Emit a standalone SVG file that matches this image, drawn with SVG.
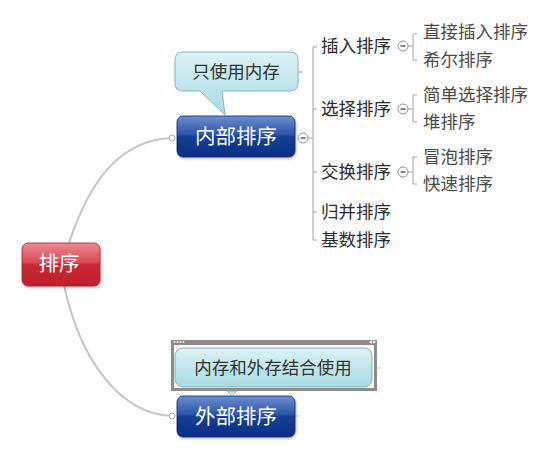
<svg xmlns="http://www.w3.org/2000/svg" width="555" height="459" viewBox="0 0 555 459">
<defs>
<linearGradient id="gRed" x1="0" y1="0" x2="0" y2="1">
<stop offset="0" stop-color="#ec8a92"/>
<stop offset="0.45" stop-color="#d84a55"/>
<stop offset="0.5" stop-color="#c82a36"/>
<stop offset="1" stop-color="#c01f2c"/>
</linearGradient>
<linearGradient id="gBlue" x1="0" y1="0" x2="0" y2="1">
<stop offset="0" stop-color="#6d8fd0"/>
<stop offset="0.45" stop-color="#2c55a8"/>
<stop offset="0.5" stop-color="#153f93"/>
<stop offset="1" stop-color="#0b2f85"/>
</linearGradient>
<linearGradient id="gCall" x1="0" y1="0" x2="0" y2="1">
<stop offset="0" stop-color="#dcf2f5"/>
<stop offset="1" stop-color="#a6dbe2"/>
</linearGradient>
<filter id="sh" x="-10%" y="-10%" width="130%" height="140%">
<feDropShadow dx="1" dy="1.5" stdDeviation="1.2" flood-color="#000" flood-opacity="0.25"/>
</filter>
</defs>
<style>
.conn{fill:none;stroke:#c4c4c4;stroke-width:2}
.br{fill:none;stroke:#a0a0a0;stroke-width:1}
.dot{fill:#fff;stroke:#a8a8a8;stroke-width:1}
.col{fill:#fff;stroke:#909090;stroke-width:1}
.minus{stroke:#333;stroke-width:1.2}
.big{font-family:"Noto Sans CJK SC","Noto Sans",sans-serif;font-size:20.5px;fill:#fff;text-anchor:middle}
.ch{font-family:"Noto Sans CJK SC","Noto Sans",sans-serif;font-size:17.5px;fill:#2a2a2a}
.gc{font-family:"Noto Sans CJK SC","Noto Sans",sans-serif;font-size:17.5px;fill:#4a4a4a}
.ct{font-family:"Noto Sans CJK SC","Noto Sans",sans-serif;font-size:17.5px;fill:#333;text-anchor:middle}
</style>
<rect width="555" height="459" fill="#fff"/>
<g id="connectors">
<path class="conn" d="M69,243 C90,180 120,140 172,138"/>
<path class="conn" d="M64,285 C80,360 120,414 172,416"/>
<circle class="dot" cx="172" cy="138" r="3"/>
<circle class="dot" cx="172" cy="416" r="3"/>
<line class="br" x1="308" y1="138" x2="313" y2="138"/>
<path class="br" d="M317,47 H313 V240 H317"/>
<line class="br" x1="313" y1="109" x2="317" y2="109"/>
<line class="br" x1="313" y1="172" x2="317" y2="172"/>
<line class="br" x1="313" y1="212" x2="317" y2="212"/>
<line class="br" x1="298" y1="72" x2="303" y2="72"/>
<path class="br" d="M417,34 H413 V60 H417"/>
<line class="br" x1="408" y1="46" x2="413" y2="46"/>
<path class="br" d="M417,95 H413 V122 H417"/>
<line class="br" x1="408" y1="109" x2="413" y2="109"/>
<path class="br" d="M417,157 H413 V184 H417"/>
<line class="br" x1="408" y1="172" x2="413" y2="172"/>
<line x1="295" y1="416" x2="300" y2="416" stroke="#d0d0d0" stroke-width="1"/>
<line x1="377" y1="368" x2="381" y2="368" stroke="#d0d0d0" stroke-width="1"/>
</g>
<g id="root">
<rect x="22" y="243" width="78" height="43" rx="6" fill="url(#gRed)" stroke="#b01e2a" stroke-width="0.8" filter="url(#sh)"/>
<text class="big" x="59" y="271">排序</text>
</g>
<g id="internal">
<rect x="177" y="116" width="118" height="41" rx="6" fill="url(#gBlue)" stroke="#0a2a70" stroke-width="0.8" filter="url(#sh)"/>
<text class="big" x="236" y="144">内部排序</text>
<circle class="col" cx="303" cy="138" r="5"/>
<line class="minus" x1="300.5" y1="138" x2="305.5" y2="138"/>
</g>
<g id="callout1">
<path d="M183,52 H290 Q298,52 298,60 V83 Q298,91 290,91 H222 L225,115 L200,91 H183 Q175,91 175,83 V60 Q175,52 183,52 Z" fill="url(#gCall)" stroke="#86b4bc" stroke-width="1"/>
<text class="ct" x="236" y="78">只使用内存</text>
</g>
<g id="external">
<rect x="177" y="396" width="118" height="41" rx="6" fill="url(#gBlue)" stroke="#0a2a70" stroke-width="0.8" filter="url(#sh)"/>
<text class="big" x="236" y="424">外部排序</text>
</g>
<g id="callout2">
<rect x="171" y="340" width="206" height="51" fill="#8f8b88"/>
<rect x="174" y="345" width="200" height="43" fill="#fff"/>
<circle cx="174.5" cy="342" r="0.9" fill="#fff"/>
<circle cx="177.5" cy="342" r="0.9" fill="#fff"/>
<circle cx="180.5" cy="342" r="0.9" fill="#fff"/>
<circle cx="183.5" cy="342" r="0.9" fill="#fff"/>
<polygon points="369,342 372,340.3 372,343.7" fill="#fff"/>
<polygon points="376,342 373,340.3 373,343.7" fill="#fff"/>
<rect x="175" y="348" width="197" height="39" rx="8" fill="url(#gCall)" stroke="#86b4bc" stroke-width="1"/>
<polygon points="227,391 237,391 232,396" fill="#c8e8ec" stroke="#86b4bc" stroke-width="0.8"/>
<text class="ct" x="273" y="374">内存和外存结合使用</text>
</g>
<g id="insert">
<text class="ch" x="321" y="52">插入排序</text>
<circle class="col" cx="403" cy="46" r="5"/>
<line class="minus" x1="400.5" y1="46" x2="405.5" y2="46"/>
</g>
<g id="select">
<text class="ch" x="321" y="115">选择排序</text>
<circle class="col" cx="403" cy="109" r="5"/>
<line class="minus" x1="400.5" y1="109" x2="405.5" y2="109"/>
</g>
<g id="exchange">
<text class="ch" x="321" y="178">交换排序</text>
<circle class="col" cx="403" cy="172" r="5"/>
<line class="minus" x1="400.5" y1="172" x2="405.5" y2="172"/>
</g>
<g id="merge"><text class="ch" x="321" y="218">归并排序</text></g>
<g id="radix"><text class="ch" x="321" y="246">基数排序</text></g>
<g id="direct"><text class="gc" x="423" y="38">直接插入排序</text></g>
<g id="shell"><text class="gc" x="423" y="66">希尔排序</text></g>
<g id="simple"><text class="gc" x="423" y="101">简单选择排序</text></g>
<g id="heap"><text class="gc" x="423" y="128">堆排序</text></g>
<g id="bubble"><text class="gc" x="423" y="163">冒泡排序</text></g>
<g id="quick"><text class="gc" x="423" y="190">快速排序</text></g>
</svg>
